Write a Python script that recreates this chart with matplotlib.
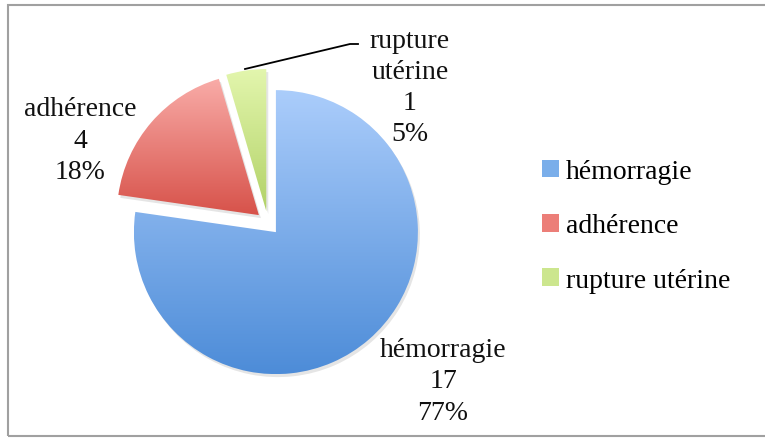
import numpy as np
import matplotlib
matplotlib.use("Agg")
import matplotlib.pyplot as plt
from matplotlib.colors import LinearSegmentedColormap
from matplotlib.patches import Rectangle, Wedge

# données du graphique
categories = ["hémorragie", "adhérence", "rupture utérine"]
label_names = ["hémorragie", "adhérence", "rupture\nutérine"]
counts = [17, 4, 1]
percents = ["77%", "18%", "5%"]

# dégradés (haut -> bas) style Excel
grad_top = ["#abcdfb", "#f9aca8", "#e3f6ae"]
grad_bottom = ["#4d8cd8", "#d7524a", "#b2d267"]
legend_colors = ["#7aaeea", "#ec7e78", "#cce68e"]

plt.rcParams["font.family"] = ["Liberation Serif", "DejaVu Serif"]

W, H = 765, 439
fig = plt.figure(figsize=(W / 100, H / 100), dpi=100)
ax = fig.add_axes([0, 0, 1, 1])

cx, cy, r = 268, H - 224, 142
# explode est en unités absolues dans ax.pie
wedges, _ = ax.pie(counts, explode=[0.085 * r] * 3, startangle=90, counterclock=False,
                   center=(cx, cy), radius=r, colors=legend_colors,
                   wedgeprops=dict(linewidth=0))

# ombre légère + remplissage en dégradé
for i, w in enumerate(wedges):
    sh = Wedge((w.center[0] + 2, w.center[1] - 3), w.r, w.theta1, w.theta2,
               facecolor="#000000", alpha=0.10, linewidth=0, zorder=0.5)
    ax.add_patch(sh)
    ext = w.get_path().get_extents()
    cmap = LinearSegmentedColormap.from_list("g%d" % i, [grad_bottom[i], grad_top[i]])
    grad = np.linspace(0, 1, 256).reshape(-1, 1)
    im = ax.imshow(grad, extent=(ext.x0, ext.x1, ext.y0, ext.y1), origin="lower",
                   cmap=cmap, aspect="auto", zorder=2)
    im.set_clip_path(w)
    w.set_facecolor("none")

ax.set_xlim(0, W)
ax.set_ylim(0, H)
ax.set_aspect("equal")
ax.axis("off")

# étiquettes
fs = 20
label_pos = [(443, H - 382), (80, H - 141), (410, H - 88)]
for i in range(3):
    ax.text(label_pos[i][0], label_pos[i][1],
            "%s\n%d\n%s" % (label_names[i], counts[i], percents[i]),
            ha="center", va="center", fontsize=fs, linespacing=1.32, color="#111111")

# ligne de rappel pour rupture utérine
ax.plot([245, 350, 358], [H - 70, H - 45, H - 45], color="black", lw=1.3, zorder=3)

# légende
handles = [Rectangle((0, 0), 1, 1, facecolor=c, edgecolor="none") for c in legend_colors]
fig.legend(handles, categories, loc="center left", bbox_to_anchor=(531 / W, 1 - 227 / H),
           frameon=False, fontsize=20, handlelength=0.6, handleheight=0.6,
           handletextpad=0.25, labelspacing=1.05, borderaxespad=0)

# cadre
fig.patches.append(Rectangle((8 / W, 2 / H), 1, 1 - 8 / H, transform=fig.transFigure,
                             fill=False, edgecolor="#a0a0a0", lw=1.5))

fig.savefig("out.png", dpi=100)
